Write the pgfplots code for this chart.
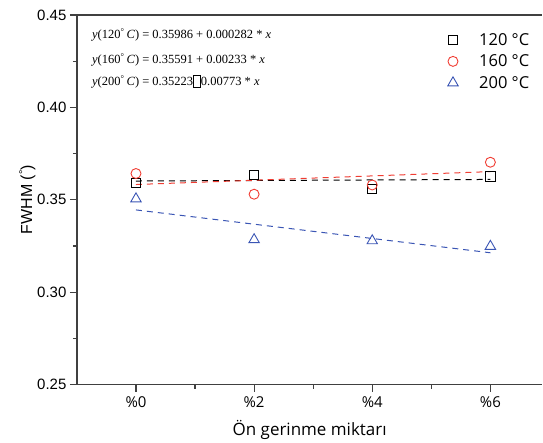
\documentclass[border=0pt]{standalone}
\usepackage{pgfplots}
\pgfplotsset{compat=1.18}
\usepackage{fontspec}
\setmainfont{Liberation Sans}
\newfontfamily\legfont{Open Sans}
\newfontfamily\eqfont{Liberation Serif}
\definecolor{axgray}{HTML}{404040}
\definecolor{myred}{HTML}{F03C32}
\definecolor{myblue}{HTML}{3A55B4}
\newcommand{\missing}{{\setlength{\fboxsep}{0pt}\setlength{\fboxrule}{0.5pt}\raisebox{-0.2ex}{\fbox{\rule{0pt}{1.9ex}\hspace{0.55em}}}}}
\begin{document}
\begin{tikzpicture}
\begin{axis}[
  scale only axis,
  width=466pt, height=370pt,
  xmin=0.5, xmax=4.44,
  ymin=0.25, ymax=0.45,
  axis x line*=box,
  axis y line*=left,
  axis line style={axgray, line width=1.3pt},
  xtick={1,2,3,4},
  xticklabels={\%0,\%2,\%4,\%6},
  minor xtick={1.5,2.5,3.5},
  ytick={0.25,0.30,...,0.45},
  minor ytick={0.275,0.325,...,0.425},
  xtick pos=bottom,
  ytick pos=left,
  tick align=outside,
  major tick length=7pt,
  minor tick length=4pt,
  every tick/.style={axgray, line width=1.2pt},
  yticklabel style={/pgf/number format/.cd, fixed, fixed zerofill, precision=2, assume math mode=true},
  ticklabel style={font=\fontsize{15}{18}\selectfont},
  xticklabel style={font=\legfont\fontsize{15}{18}\selectfont, yshift=-2pt},
  xlabel={\legfont\fontsize{17}{20}\selectfont Ön gerinme miktarı},
  ylabel={\fontsize{16}{19}\selectfont FWHM (\raisebox{0.6ex}{\fontsize{11}{12}\selectfont °})},
  xlabel style={yshift=-5pt},
  ylabel style={yshift=-5pt},
  legend style={draw=none, fill=none, at={(rel axis cs:0.79,0.962)}, anchor=north west,
    font=\legfont\fontsize{16.5}{19}\selectfont, row sep=4pt},
  legend cell align=left,
  clip=false,
]
\addplot[only marks, mark=square, mark size=4.6pt, black, line width=0.9pt] coordinates {
 (1,0.3590) (2,0.3635) (3,0.3560) (4,0.3626)};
\addlegendentry{\hspace{19pt}120 °C}
\addplot[only marks, mark=o, mark size=5pt, myred, line width=0.9pt] coordinates {
 (1,0.3642) (2,0.3530) (3,0.3580) (4,0.3703)};
\addlegendentry{\hspace{19pt}160 °C}
\addplot[only marks, mark=triangle, mark size=6pt, myblue, line width=0.9pt] coordinates {
 (1,0.3505) (2,0.3284) (3,0.3278) (4,0.3248)};
\addlegendentry{\hspace{19pt}200 °C}
\addplot[forget plot, black, dashed, line width=1pt, dash pattern=on 6pt off 5pt] coordinates {(1,0.36014) (4,0.36099)};
\addplot[forget plot, myred, dashed, line width=1pt, dash pattern=on 6pt off 5pt] coordinates {(1,0.35824) (4,0.36523)};
\addplot[forget plot, myblue, dashed, line width=1pt, dash pattern=on 6pt off 5pt] coordinates {(1,0.34450) (4,0.32131)};
\node[anchor=west, font=\eqfont\fontsize{12.5}{14}\selectfont, inner sep=0pt] at (axis cs:0.627,0.4393)
  {\textit{y}(120\textsuperscript{°}\,\textit{C}) = 0.35986 + 0.000282 * \textit{x}};
\node[anchor=west, font=\eqfont\fontsize{12.5}{14}\selectfont, inner sep=0pt] at (axis cs:0.627,0.4257)
  {\textit{y}(160\textsuperscript{°}\,\textit{C}) = 0.35591 + 0.00233 * \textit{x}};
\node[anchor=west, font=\eqfont\fontsize{12.5}{14}\selectfont, inner sep=0pt] at (axis cs:0.627,0.4138)
  {\textit{y}(200\textsuperscript{°}\,\textit{C}) = 0.35223\missing0.00773 * \textit{x}};
\end{axis}
\useasboundingbox (current axis.south west) ++(-77pt,-57pt) rectangle ([shift={(0pt,15pt)}]current axis.north east);
\end{tikzpicture}
\end{document}
